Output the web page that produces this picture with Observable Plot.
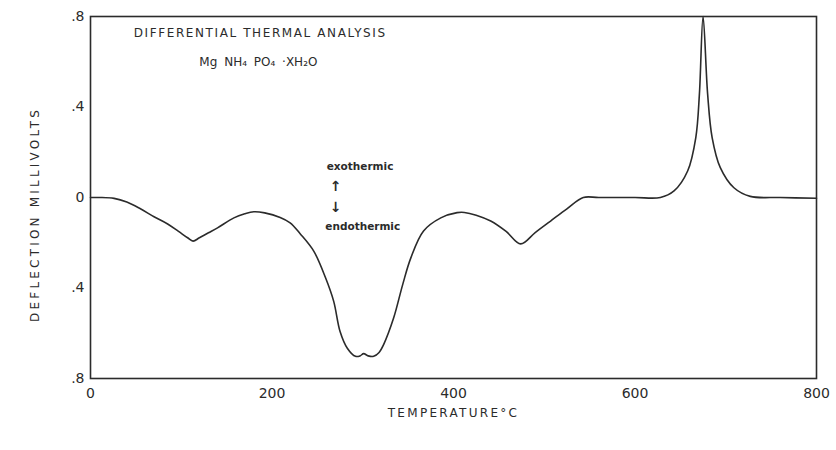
<!DOCTYPE html>
<html>
<head>
<meta charset="utf-8">
<script src="https://cdn.jsdelivr.net/npm/d3@7"></script>
<script src="https://cdn.jsdelivr.net/npm/@observablehq/plot@0.6"></script>
<style>
  html, body { margin: 0; padding: 0; background: #ffffff; }
  #chart svg { font-family: "DejaVu Sans", sans-serif; color: #2b2b2b; }
</style>
</head>
<body>
<div id="chart"></div>
<script>
// Temperature (°C) and deflection (millivolts)
const temperature = [0, 10, 26, 40, 55, 70, 85, 97, 107, 113, 120, 130, 140, 158, 170, 180, 192, 209, 220, 231, 246, 259, 268, 275, 283, 292, 297, 301, 306, 312, 318, 323, 334, 344, 353, 367, 386, 404, 412, 425, 441, 458, 474, 490, 507, 525, 543, 560, 600, 628, 643, 658, 667, 671, 675, 680, 685, 694, 709, 727, 760, 800];
const deflection  = [0, 0, -0.004, -0.02, -0.05, -0.085, -0.117, -0.15, -0.178, -0.193, -0.178, -0.156, -0.134, -0.09, -0.072, -0.063, -0.068, -0.088, -0.112, -0.16, -0.237, -0.355, -0.459, -0.592, -0.666, -0.702, -0.7, -0.69, -0.7, -0.702, -0.685, -0.65, -0.533, -0.385, -0.267, -0.148, -0.09, -0.067, -0.066, -0.078, -0.104, -0.15, -0.205, -0.155, -0.104, -0.05, 0, 0, 0, 0, 0.029, 0.117, 0.265, 0.459, 0.8, 0.459, 0.265, 0.132, 0.043, 0.005, 0, -0.003];

const xTicks = [0, 200, 400, 600, 800];
const yTicks = [0.8, 0.4, 0, -0.4, -0.8];
const yTickLabels = [".8", ".4", "0", ".4", ".8"];

const title = "DIFFERENTIAL THERMAL ANALYSIS";
const subtitle = "Mg NH₄ PO₄ ·XH₂O";
const exoLabel = "exothermic";
const endoLabel = "endothermic";
const xTitle = "TEMPERATURE°C";
const yTitle = "DEFLECTION MILLIVOLTS";

const data = temperature.map((t, i) => ({t, v: deflection[i]}));
const ink = "#2b2b2b";

const chart = Plot.plot({
  width: 836,
  height: 450,
  marginLeft: 90,
  marginRight: 20,
  marginTop: 16,
  marginBottom: 72,
  style: {fontSize: "14px", background: "#ffffff", color: ink},
  x: {domain: [0, 800], ticks: xTicks, tickSize: 0, tickPadding: 10, label: null},
  y: {domain: [-0.8, 0.8], ticks: yTicks, tickSize: 0, tickPadding: 6,
      tickFormat: d => yTickLabels[yTicks.indexOf(d)], label: null},
  marks: [
    Plot.frame({stroke: ink, strokeWidth: 1.6}),
    Plot.line(data, {x: "t", y: "v", curve: "catmull-rom", stroke: ink, strokeWidth: 1.6}),
    Plot.text([title], {x: 187, y: 0.725, text: d => d, fontSize: 12, fill: ink}),
    Plot.text([subtitle], {x: 185, y: 0.6, text: d => d, fontSize: 12, fill: ink}),
    Plot.text([exoLabel], {x: 297, y: 0.135, text: d => d, fontSize: 10.5, fontWeight: "bold", fill: ink}),
    Plot.text([endoLabel], {x: 300, y: -0.13, text: d => d, fontSize: 10.5, fontWeight: "bold", fill: ink}),
    Plot.text(["↑"], {x: 270, y: 0.05, text: d => d, fontSize: 14, fontWeight: "bold", fill: ink}),
    Plot.text(["↓"], {x: 270, y: -0.045, text: d => d, fontSize: 14, fontWeight: "bold", fill: ink}),
    Plot.text([xTitle], {x: 400, y: -0.955, text: d => d, fontSize: 12, fill: ink}),
    Plot.text([yTitle], {x: -61, y: -0.075, text: d => d, fontSize: 12, rotate: -90, fill: ink})
  ]
});

document.getElementById("chart").appendChild(chart);

d3.select(chart).selectAll("text").each(function() {
  const s = d3.select(this);
  const txt = s.text();
  if (txt === title) s.style("letter-spacing", "1.6px");
  if (txt === subtitle) s.style("word-spacing", "3px");
  if (txt === xTitle) s.style("letter-spacing", "2.3px");
  if (txt === yTitle) s.style("letter-spacing", "3.2px");
});
</script>
</body>
</html>
